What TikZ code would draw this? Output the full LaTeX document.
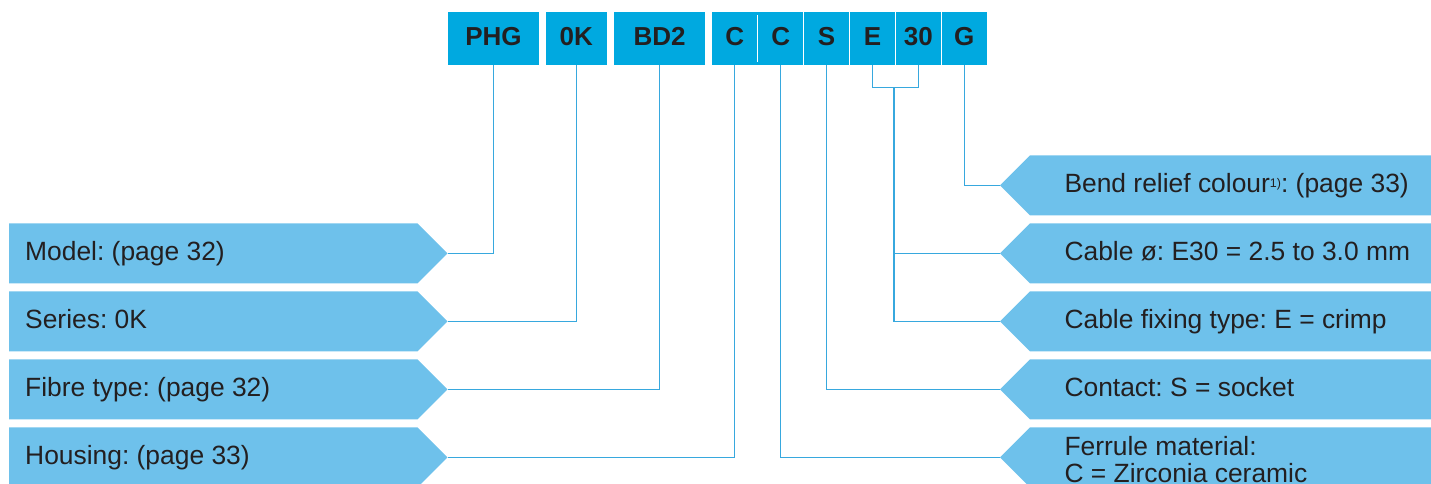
\documentclass[tikz,border=0pt]{standalone}
\usepackage{fontspec}
\setmainfont{Liberation Sans}
\usepackage{xcolor}
\definecolor{codeblue}{RGB}{0,169,224}
\definecolor{lblblue}{RGB}{110,193,235}
\definecolor{lineblue}{RGB}{55,168,222}
\definecolor{inkgrey}{RGB}{35,31,32}
\usetikzlibrary{
  positioning
}
\frenchspacing

\begin{document}
\begin{tikzpicture}[
  x=1pt, y=-1pt,
  cell/.style={
    fill=codeblue, inner sep=0pt, minimum width=45.5pt,
    minimum height=52.7pt, text=inkgrey,
    font=\fontsize{26}{28}\selectfont\bfseries,
    text height=19pt, text depth=4pt
  },
  sep/.style={white, line width=1pt},
  lblbox/.style={fill=lblblue},
  lbltext/.style={
    anchor=west, inner sep=0pt, text=inkgrey,
    font=\fontsize{26.4}{27.3}\selectfont,
    text height=18.5pt, text depth=3.5pt
  },
  twotext/.style={
    anchor=west, inner sep=0pt, text=inkgrey,
    font=\fontsize{26.4}{27.3}\selectfont, align=left
  },
  conn/.style={lineblue, line width=1.3pt},
]
\useasboundingbox (0,0) rectangle (1431,483);

% Order code boxes
\node[cell, minimum width=91pt]   (phg) at (493.5,38.4) {PHG};
\node[cell, minimum width=60.7pt] (ok)  at (576.3,38.4) {0K};
\node[cell, minimum width=91pt]   (bd)  at (659.5,38.4) {BD2};
\node[cell] (c1) at (734.75,38.4) {C};
\node[cell, right=0pt of c1]  (c2)  {C};
\node[cell, right=0pt of c2]  (s)   {S};
\node[cell, right=0pt of s]   (e)   {E};
\node[cell, right=0pt of e]   (n30) {30};
\node[cell, right=0pt of n30] (g)   {G};

\foreach \a in {c1,c2,s,e,n30}
  \draw[sep] ([yshift=-3pt]\a.north east) -- ([yshift=3pt]\a.south east);

% Tips of the label arrows
\coordinate (model tip)   at (447.5,253.4);
\coordinate (series tip)  at (447.5,321.4);
\coordinate (fibre tip)   at (447.5,389.4);
\coordinate (housing tip) at (447.5,457.4);
\coordinate (bend tip)    at (1000,185.4);
\coordinate (cable tip)   at (1000,253.4);
\coordinate (fix tip)     at (1000,321.4);
\coordinate (contact tip) at (1000,389.4);
\coordinate (ferrule tip) at (1000,457.4);

% Left labels
\fill[lblbox] (model tip)   -- ++(-30,-30) -- ++(-408.5,0) -- ++(0,60) -- ++(408.5,0) -- cycle;
\fill[lblbox] (series tip)  -- ++(-30,-30) -- ++(-408.5,0) -- ++(0,60) -- ++(408.5,0) -- cycle;
\fill[lblbox] (fibre tip)   -- ++(-30,-30) -- ++(-408.5,0) -- ++(0,60) -- ++(408.5,0) -- cycle;
\fill[lblbox] (housing tip) -- ++(-30,-30) -- ++(-408.5,0) -- ++(0,60) -- ++(408.5,0) -- cycle;

\node[lbltext] (model)   at (25,253.4) {Model: (page 32)};
\node[lbltext] (series)  at (25,321.4) {Series: 0K};
\node[lbltext] (fibre)   at (25,389.4) {Fibre type: (page 32)};
\node[lbltext] (housing) at (25,457.4) {Housing: (page 33)};

% Right labels
\fill[lblbox] (bend tip)    -- ++(30,-30) -- ++(401,0) -- ++(0,60) -- ++(-401,0) -- cycle;
\fill[lblbox] (cable tip)   -- ++(30,-30) -- ++(401,0) -- ++(0,60) -- ++(-401,0) -- cycle;
\fill[lblbox] (fix tip)     -- ++(30,-30) -- ++(401,0) -- ++(0,60) -- ++(-401,0) -- cycle;
\fill[lblbox] (contact tip) -- ++(30,-30) -- ++(401,0) -- ++(0,60) -- ++(-401,0) -- cycle;
\fill[lblbox] (ferrule tip) -- ++(30,-30) -- ++(401,0) -- ++(0,60) -- ++(-401,0) -- cycle;

\node[lbltext] (bend)    at (1064.3,185.4)
  {Bend relief colour\raisebox{5pt}{\fontsize{12.5}{12.5}\selectfont 1)}: (page 33)};
\node[lbltext] (cable)   at (1064.3,253.4) {Cable ø: E30 = 2.5 to 3.0 mm};
\node[lbltext] (fix)     at (1064.3,321.4) {Cable fixing type: E = crimp};
\node[lbltext] (contact) at (1064.3,389.4) {Contact: S = socket};
\node[twotext] (ferrule) at (1064.3,459.4) {Ferrule material:\\C = Zirconia ceramic};

% Connectors
\draw[conn] (phg.south) |- (model tip);
\draw[conn] (ok.south)  |- (series tip);
\draw[conn] (bd.south)  |- (fibre tip);
\draw[conn] (c1.south)  |- (housing tip);
\draw[conn] (c2.south)  |- (ferrule tip);
\draw[conn] (s.south)   |- (contact tip);
\draw[conn] (g.south)   |- (bend tip);

% E and 30 share one line
\coordinate (ebr) at (894,87.3);
\draw[conn] (e.south) |- (ebr) -| (n30.south);
\draw[conn] (ebr) |- (fix tip);
\draw[conn] (ebr |- cable tip) -- (cable tip);

\end{tikzpicture}
\end{document}
